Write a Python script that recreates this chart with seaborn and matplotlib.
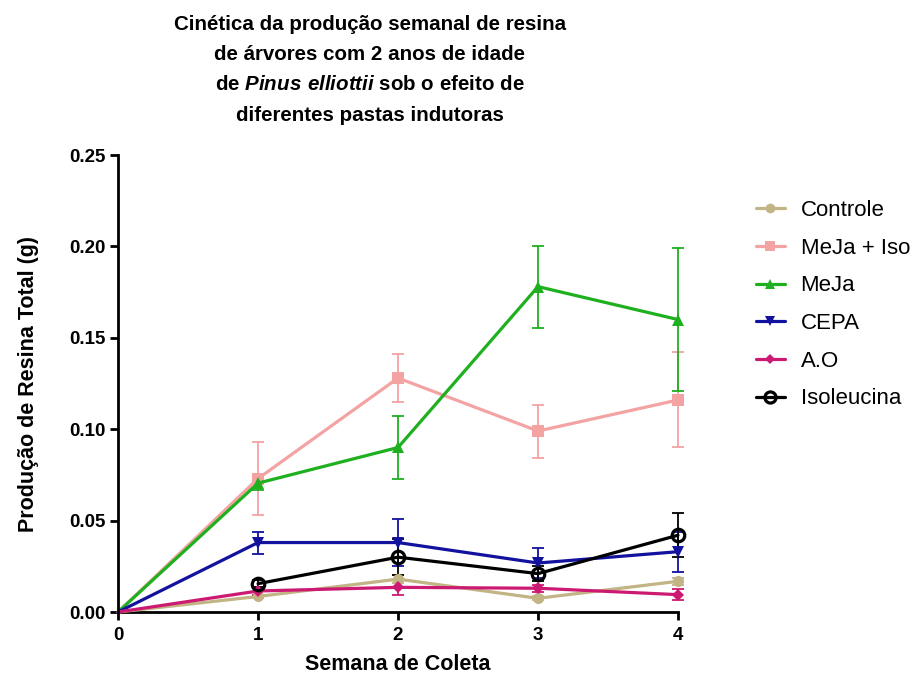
import numpy as np
import pandas as pd
import matplotlib
matplotlib.use("Agg")
import matplotlib.pyplot as plt
import seaborn as sns
from matplotlib.lines import Line2D

weeks = [0, 1, 2, 3, 4]
series_names = ["Controle", "MeJa + Iso", "MeJa", "CEPA", "A.O", "Isoleucina"]
controle = [0.0, 0.0085, 0.018, 0.0075, 0.0168]
meja_iso = [0.0, 0.073, 0.128, 0.099, 0.116]
meja = [0.0, 0.0705, 0.090, 0.178, 0.160]
cepa = [0.0, 0.038, 0.038, 0.0268, 0.033]
ao = [0.0, 0.0115, 0.0135, 0.013, 0.0095]
isoleucina = [np.nan, 0.0155, 0.030, 0.021, 0.042]

controle_err = [0.0, 0.001, 0.002, 0.001, 0.002]
meja_iso_err = [0.0, 0.020, 0.013, 0.0145, 0.026]
meja_err = [0.0, 0.004, 0.017, 0.0225, 0.039]
cepa_err = [0.0, 0.006, 0.013, 0.008, 0.011]
ao_err = [0.0, 0.002, 0.004, 0.002, 0.003]
iso_err = [np.nan, 0.002, 0.010, 0.004, 0.012]

y_ticks = [0.0, 0.05, 0.10, 0.15, 0.20, 0.25]
y_ticklabels = ["0.00", "0.05", "0.10", "0.15", "0.20", "0.25"]

values = [controle, meja_iso, meja, cepa, ao, isoleucina]
errors = [controle_err, meja_iso_err, meja_err, cepa_err, ao_err, iso_err]
colors = ["#C2B484", "#F4A3A3", "#1FB01F", "#12129E", "#CC1A72", "#000000"]
markers = ["o", "s", "^", "v", "D", "o"]

sns.set_theme(style="ticks")
plt.rcParams["font.family"] = ["Liberation Sans", "DejaVu Sans"]
plt.rcParams["text.color"] = "black"
plt.rcParams["axes.labelcolor"] = "black"
plt.rcParams["xtick.color"] = "black"
plt.rcParams["ytick.color"] = "black"
plt.rcParams["mathtext.fontset"] = "custom"
plt.rcParams["mathtext.bfit"] = "Liberation Sans:bold:italic"
plt.rcParams["mathtext.bf"] = "Liberation Sans:bold"
plt.rcParams["mathtext.rm"] = "Liberation Sans:bold"

rows = []
for name, vals in zip(series_names, values):
    for w, v in zip(weeks, vals):
        rows.append({"Semana": w, "Valor": v, "Grupo": name})
df = pd.DataFrame(rows).dropna()

fig = plt.figure(figsize=(9.15, 6.77), dpi=100)
ax = fig.add_axes([0.129, 0.096, 0.612, 0.675])

for name, vals, errs, c in zip(series_names, values, errors, colors):
    eb = ax.errorbar(weeks, vals, yerr=errs, fmt="none", ecolor=c, elinewidth=1.3,
                     capsize=4, capthick=1.3, zorder=2)
    for art in eb.lines[1]:
        art.set_clip_on(False)
    for art in eb.lines[2]:
        art.set_clip_on(False)

sns.lineplot(data=df, x="Semana", y="Valor", hue="Grupo", style="Grupo",
             hue_order=series_names, style_order=series_names,
             palette=dict(zip(series_names, colors)),
             markers=dict(zip(series_names, markers)),
             dashes=False, linewidth=2.3, markersize=8, markeredgewidth=0,
             ax=ax, legend=False, zorder=3)

for ln in ax.get_lines():
    ln.set_clip_on(False)
    xd = np.asarray(ln.get_xdata(), dtype=float)
    if len(xd) == 5 and xd[0] == 0:
        ln.set_markevery([1, 2, 3, 4])
    col = matplotlib.colors.to_hex(ln.get_color())
    if col == "#000000" and ln.get_marker() == "o":
        ln.set_markerfacecolor("none")
        ln.set_markeredgecolor("#000000")
        ln.set_markeredgewidth(2.3)
        ln.set_markersize(9)
    if col == "#cc1a72":
        ln.set_markersize(6)

ax.set_xlim(0, 4)
ax.set_ylim(0, 0.25)
ax.set_xticks(weeks)
ax.set_yticks(y_ticks)
ax.set_yticklabels(y_ticklabels)
for lab in ax.get_xticklabels() + ax.get_yticklabels():
    lab.set_fontweight("bold")
    lab.set_fontsize(13.5)
ax.tick_params(width=2, length=6, direction="out", colors="black", pad=3)
ax.tick_params(axis="x", pad=5)
for s in ["left", "bottom"]:
    ax.spines[s].set_linewidth(2)
    ax.spines[s].set_color("black")
sns.despine(ax=ax)
ax.spines["left"].set_zorder(10)

ax.set_xlabel("Semana de Coleta", fontsize=15.5, fontweight="bold", labelpad=7)
ax.set_ylabel("Produção de Resina Total (g)", fontsize=15.5, fontweight="bold", labelpad=22)

title = ("Cinética da produção semanal de resina\n"
         "de árvores com 2 anos de idade\n"
         r"de $\mathbfit{Pinus\ elliottii}$ sob o efeito de" "\n"
         "diferentes pastas indutoras")
fig.text(0.404, 0.978, title, ha="center", va="top", fontsize=14.8,
         fontweight="bold", linespacing=1.75)

handles = []
for name, c, m in zip(series_names, colors, markers):
    if name == "Isoleucina":
        h = Line2D([], [], color=c, marker="o", markerfacecolor="none",
                   markeredgecolor=c, markeredgewidth=2.3, markersize=8, lw=2.3)
    elif name == "A.O":
        h = Line2D([], [], color=c, marker=m, markersize=5, lw=2.3, markeredgewidth=0)
    else:
        h = Line2D([], [], color=c, marker=m, markersize=7, lw=2.3, markeredgewidth=0)
    handles.append(h)
fig.legend(handles, series_names, loc="upper left", bbox_to_anchor=(0.804, 0.734),
           frameon=False, fontsize=16, handlelength=1.3, labelspacing=0.75,
           handletextpad=0.72, borderpad=0.4)

fig.savefig("out.png", dpi=100, facecolor="white")
